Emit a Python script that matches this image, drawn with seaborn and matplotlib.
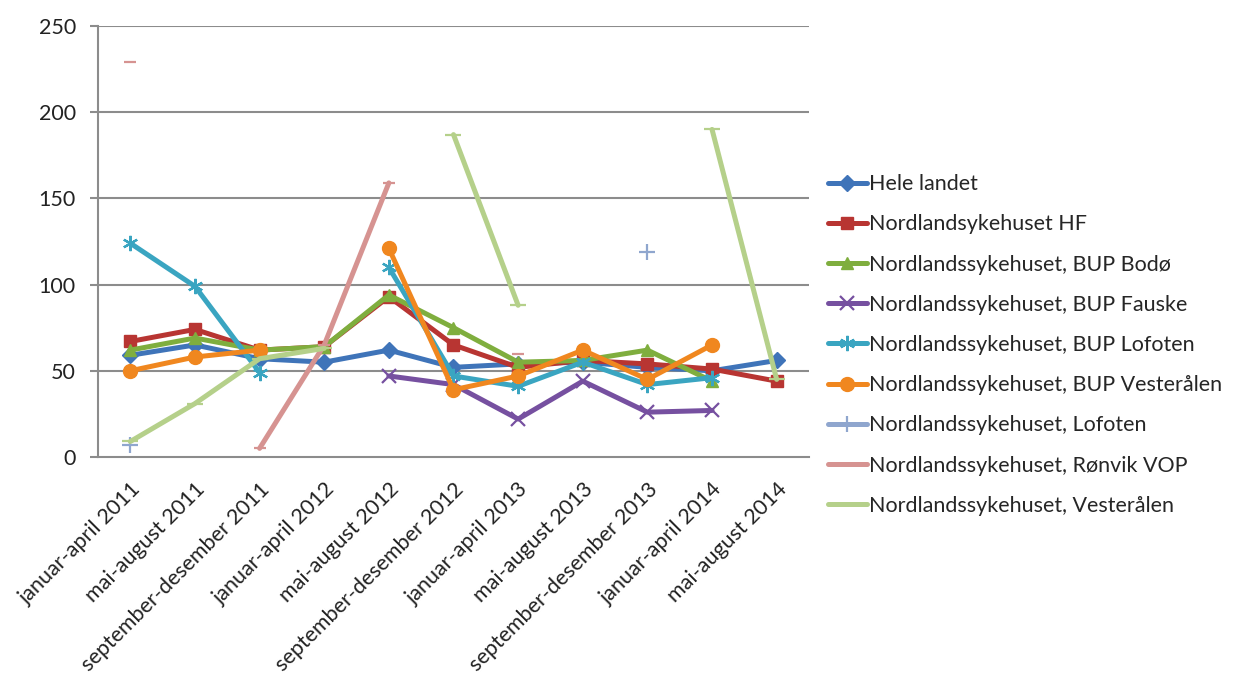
import numpy as np
import pandas as pd
import matplotlib
matplotlib.use("Agg")
import matplotlib.pyplot as plt
from matplotlib.lines import Line2D
import seaborn as sns

periods = ["januar-april 2011", "mai-august 2011", "september-desember 2011",
           "januar-april 2012", "mai-august 2012", "september-desember 2012",
           "januar-april 2013", "mai-august 2013", "september-desember 2013",
           "januar-april 2014", "mai-august 2014"]

N = np.nan
hele_landet = [59, 65, 57, 55, 62, 52, 54, 55, 52, 50, 56]
nlsh_hf = [67, 74, 62, 64, 93, 65, 52, 56, 54, 51, 44]
bup_bodo = [62, 69, 62, 64, 94, 75, 55, 56, 62, 44, N]
bup_fauske = [N, N, N, N, 47, 42, 22, 44, 26, 27, N]
bup_lofoten = [124, 99, 49, N, 110, 47, 41, 55, 42, 46, N]
bup_vesteralen = [50, 58, 62, N, 121, 39, 47, 62, 45, 65, N]
lofoten = [7, N, N, N, N, N, N, N, 119, N, N]
ronvik_vop = [229, N, 5, 65, 159, N, 60, N, N, N, N]
vesteralen = [9, 31, 57, 63, N, 187, 88, N, N, 190, 45]

series_names = ["Hele landet", "Nordlandsykehuset HF", "Nordlandssykehuset, BUP Bodø",
                "Nordlandssykehuset, BUP Fauske", "Nordlandssykehuset, BUP Lofoten",
                "Nordlandssykehuset, BUP Vesterålen", "Nordlandssykehuset, Lofoten",
                "Nordlandssykehuset, Rønvik VOP", "Nordlandssykehuset, Vesterålen"]
series_values = [hele_landet, nlsh_hf, bup_bodo, bup_fauske, bup_lofoten,
                 bup_vesteralen, lofoten, ronvik_vop, vesteralen]

colors = ["#3F74B9", "#B83532", "#7FAE3E", "#7650A0", "#3AA5C1", "#F0871F",
          "#8FA6CE", "#D69391", "#B5D08A"]
markers = ["D", "s", "^", "x", (6, 2, 0), "o", "+", "_", "_"]
msizes = [8, 9, 9, 10, 11, 10, 11, 9, 11]

# long table with segment ids so gaps stay gaps
rows = []
for name, vals in zip(series_names, series_values):
    seg = 0
    prev_nan = True
    for i, v in enumerate(vals):
        if np.isnan(v):
            prev_nan = True
            continue
        if prev_nan:
            seg += 1
        prev_nan = False
        rows.append({"series": name, "x": i, "value": v, "segment": f"{name}_{seg}"})
df = pd.DataFrame(rows)

sns.set_style("white")
plt.rcParams["font.family"] = ["Lato", "DejaVu Sans"]
FS = 15.5

fig = plt.figure(figsize=(12.33, 6.75), dpi=100)
ax = fig.add_axes([98 / 1233, 1 - 457 / 675, (809 - 98) / 1233, (457 - 26) / 675])

grid_c = "#8C8C8C"
for yv in [50, 100, 150, 200, 250]:
    ax.axhline(yv, color=grid_c, lw=1.5, zorder=0)

handles = []
for name, c, m, ms in zip(series_names, colors, markers, msizes):
    sub = df[df["series"] == name]
    filled = m not in ("x", "+", "_") and not isinstance(m, tuple)
    kw = dict(marker=m, markersize=ms, markeredgecolor=c,
              markerfacecolor=c if filled else "none",
              markeredgewidth=1.0 if filled else 1.6)
    sns.lineplot(data=sub, x="x", y="value", units="segment", estimator=None,
                 color=c, linewidth=3.6, legend=False, ax=ax, sort=True,
                 solid_joinstyle="round", solid_capstyle="round", **kw)
    handles.append(Line2D([], [], color=c, lw=3.6, **kw))

ax.set_xlim(-0.5, len(periods) - 0.5)
ax.set_ylim(0, 250)
ax.set_yticks([0, 50, 100, 150, 200, 250])
ax.set_xticks(range(len(periods)))
ax.set_xticklabels(periods, rotation=45, ha="right", rotation_mode="anchor",
                   fontsize=FS, color="#222222")
ax.set_xticks(np.arange(-0.5, len(periods)), minor=True)
ax.tick_params(axis="x", which="major", length=0, pad=16)
ax.tick_params(axis="x", which="minor", length=6, width=1.5, color=grid_c, direction="out")
ax.tick_params(axis="y", length=6, width=1.5, color=grid_c, pad=10, labelsize=FS,
               labelcolor="#222222", left=True)
ax.set_xlabel("")
ax.set_ylabel("")
for s in ["top", "right"]:
    ax.spines[s].set_visible(False)
for s in ["left", "bottom"]:
    ax.spines[s].set_color(grid_c)
    ax.spines[s].set_linewidth(1.5)

fig.legend(handles, series_names, loc="center left",
           bbox_to_anchor=(828 / 1233, 1 - 345 / 675), frameon=False,
           fontsize=FS, handlelength=1.8, handletextpad=0.12,
           labelspacing=0.94, borderpad=0, borderaxespad=0)

fig.savefig("out.png", dpi=100)
